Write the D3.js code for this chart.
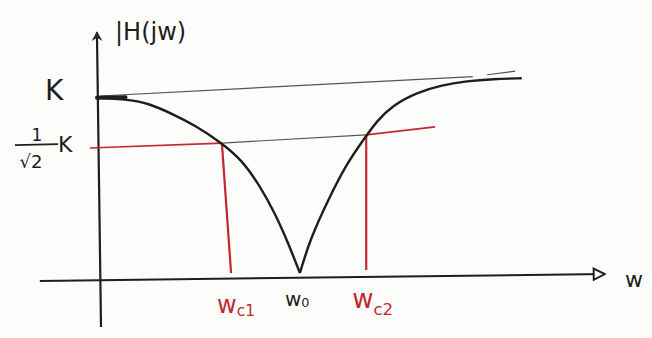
<!DOCTYPE html>
<html>
<head>
<meta charset="utf-8">
<script src="https://cdn.jsdelivr.net/npm/d3@7"></script>
<style>
  html, body { margin: 0; padding: 0; background: #fcfcfa; }
  svg text { font-family: "DejaVu Sans", sans-serif; }
</style>
</head>
<body>
<div id="chart"></div>
<script>
// |H(jw)| of a band-stop filter (w in arbitrary units, K = 1)
const wLeft = [0, 0.55, 0.94, 1.41, 1.86, 2.39, 2.78, 3.1, 3.43, 3.69, 3.92];
const hLeft = [0.99, 0.98, 0.96, 0.9, 0.835, 0.734, 0.638, 0.508, 0.339, 0.169, 0];
const wRight = [3.92, 4.12, 4.45, 4.84, 5.16, 5.43, 5.75, 6.22, 6.67, 7.2, 7.71, 8.27];
const hRight = [0, 0.19, 0.4, 0.62, 0.75, 0.86, 0.95, 1.02, 1.06, 1.085, 1.096, 1.1];

// hand drawn guide lines (w, level); the K line has a small pen gap
const kLineW = [[0, 7.31], [7.59, 8.14]];
const kLineH = [[1.0, 1.11], [1.12, 1.14]];
const halfW = [-0.2, 2.39, 5.22, 6.57];
const halfH = [0.706, 0.734, 0.78, 0.825];

// cut-off and centre frequencies
const wc1 = { top: [2.39, 0.734], bottom: [2.57, 0] };
const wc2 = { top: [5.22, 0.78], bottom: [5.22, 0.017] };
const w0 = 3.92;

// axis extents
const xAxisW = [-1.18, 9.9];
const xAxisH = [-0.045, -0.006];
const yAxisW = [0.02, -0.06];
const yAxisH = [-0.305, 1.36];

const width = 652, height = 338;
const red = "#c3282f", ink = "#1e1e1e";

const svg = d3.select("#chart").append("svg")
  .attr("width", width).attr("height", height);

const x = d3.scaleLinear().domain([0, 10]).range([100, 610]);
const y = d3.scaleLinear().domain([0, 1]).range([273, 96]);

const defs = svg.append("defs");
defs.append("marker").attr("id", "openArrow")
  .attr("viewBox", "0 0 10 10").attr("refX", 9).attr("refY", 5)
  .attr("markerWidth", 7).attr("markerHeight", 7)
  .attr("markerUnits", "strokeWidth").attr("orient", "auto")
  .append("path").attr("d", "M1,1 L9,5 L1,9 Z")
  .attr("fill", "#fcfcfa").attr("stroke", ink).attr("stroke-width", 1.4);
defs.append("marker").attr("id", "upArrow")
  .attr("viewBox", "0 0 10 10").attr("refX", 8).attr("refY", 5)
  .attr("markerWidth", 5).attr("markerHeight", 5)
  .attr("markerUnits", "strokeWidth").attr("orient", "auto")
  .append("path").attr("d", "M0,0 L9,5 L0,10 L3,5 Z").attr("fill", "#262638");

const zip = (ws, hs) => ws.map((w, i) => ({ w, h: hs[i] }));
const line = d3.line().x(d => x(d.w)).y(d => y(d.h));
const smooth = d3.line().x(d => x(d.w)).y(d => y(d.h)).curve(d3.curveBasis);

// axes
svg.append("path").attr("d", line(zip(xAxisW, xAxisH)))
  .attr("fill", "none").attr("stroke", ink).attr("stroke-width", 2)
  .attr("marker-end", "url(#openArrow)");
svg.append("path").attr("d", line(zip(yAxisW, yAxisH)))
  .attr("fill", "none").attr("stroke", ink).attr("stroke-width", 2.2)
  .attr("marker-end", "url(#upArrow)");

// K level guide
kLineW.forEach((ws, i) => {
  svg.append("path").attr("d", line(zip(ws, kLineH[i])))
    .attr("fill", "none").attr("stroke", "#555").attr("stroke-width", 1.2);
});

// K/sqrt(2) level guide: red - grey - red
const half = zip(halfW, halfH);
svg.append("path").attr("d", line(half.slice(0, 2)))
  .attr("fill", "none").attr("stroke", red).attr("stroke-width", 1.6);
svg.append("path").attr("d", line(half.slice(1, 3)))
  .attr("fill", "none").attr("stroke", "#555").attr("stroke-width", 1.2);
svg.append("path").attr("d", line(half.slice(2, 4)))
  .attr("fill", "none").attr("stroke", red).attr("stroke-width", 1.8);

// cut-off verticals
[wc1, wc2].forEach(c => {
  svg.append("line")
    .attr("x1", x(c.top[0])).attr("y1", y(c.top[1]))
    .attr("x2", x(c.bottom[0])).attr("y2", y(c.bottom[1]))
    .attr("stroke", red).attr("stroke-width", 2.2);
});

// response curve (two branches meeting in a cusp at w0)
svg.append("path").attr("d", smooth(zip(wLeft, hLeft)))
  .attr("fill", "none").attr("stroke", ink).attr("stroke-width", 2.4);
svg.append("path").attr("d", smooth(zip(wRight, hRight)))
  .attr("fill", "none").attr("stroke", ink).attr("stroke-width", 2.4);

// K marker at w = 0
svg.append("line")
  .attr("x1", x(0) - 3).attr("y1", y(hLeft[0]))
  .attr("x2", x(0.5)).attr("y2", y(hLeft[0]) - 0.5)
  .attr("stroke", ink).attr("stroke-width", 4).attr("stroke-linecap", "round");

// labels
svg.append("text").attr("x", x(0) + 15).attr("y", 40)
  .attr("font-size", 24).attr("fill", ink).text("|H(jw)");

svg.append("text").attr("x", x(0) - 55).attr("y", y(1) + 4)
  .attr("font-size", 28).attr("fill", ink).text("K");

const frac = svg.append("g").attr("fill", ink);
frac.append("text").attr("x", 37).attr("y", y(halfH[0]) - 7)
  .attr("text-anchor", "middle").attr("font-size", 17).text("1");
frac.append("line").attr("x1", 15).attr("x2", 58)
  .attr("y1", y(halfH[0]) - 3).attr("y2", y(halfH[0]) - 4)
  .attr("stroke", ink).attr("stroke-width", 1.8);
frac.append("text").attr("x", 31).attr("y", y(halfH[0]) + 20)
  .attr("text-anchor", "middle").attr("font-size", 18).text("√2");
frac.append("text").attr("x", 58).attr("y", y(halfH[0]) + 4)
  .attr("font-size", 22).text("K");

const sub = (px, py, main, s, size, color, dy) => {
  const t = svg.append("text").attr("x", px).attr("y", py)
    .attr("font-size", size).attr("fill", color);
  t.append("tspan").text(main);
  t.append("tspan").attr("font-size", size * 0.64).attr("dy", dy).text(s);
};
sub(x(wc1.bottom[0]) - 14, y(0) + 40, "w", "c1", 24, red, 3);
sub(x(w0) - 15, y(0) + 33, "w", "0", 20, ink, 1);
sub(x(wc2.bottom[0]) - 14, y(0) + 35, "w", "c2", 26, red, 7);

svg.append("text").attr("x", x(10) + 15).attr("y", y(0) + 14)
  .attr("font-size", 22).attr("fill", ink).text("w");
</script>
</body>
</html>
